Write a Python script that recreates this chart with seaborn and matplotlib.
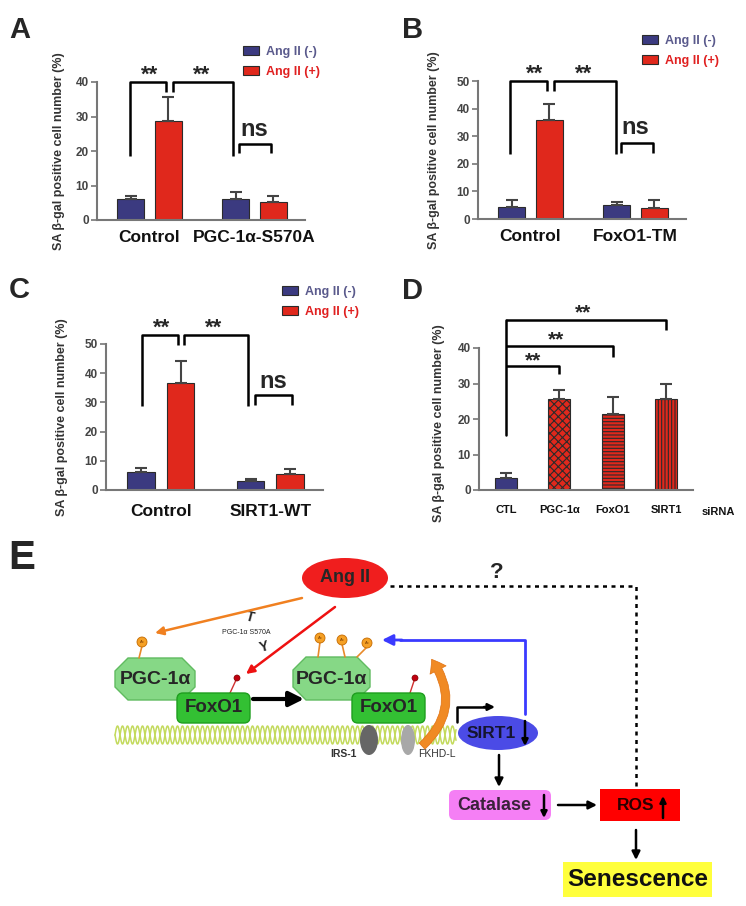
"""
SA beta-gal positive cells (panels A-D) and the Ang II / SIRT1 scheme (panel E)
"""

import numpy as np
import pandas as pd
import matplotlib
matplotlib.use('Agg')
import matplotlib.pyplot as plt
import seaborn as sns
from matplotlib.patches import Circle, Ellipse, FancyArrowPatch, FancyBboxPatch, Patch, Polygon, Rectangle

W, H = 746, 906

TREATMENTS = ['Ang II (-)', 'Ang II (+)']

# values per group, ordered [Ang II (-), Ang II (+)] for each group
GROUPS_A = ['Control', 'PGC-1α-S570A']
MEAN_A = [6.0, 28.7, 6.0, 5.2]
SEM_A = [1.0, 7.0, 2.0, 1.8]

GROUPS_B = ['Control', 'FoxO1-TM']
MEAN_B = [4.4, 35.9, 5.1, 4.1]
SEM_B = [2.5, 5.8, 1.1, 2.8]

GROUPS_C = ['Control', 'SIRT1-WT']
MEAN_C = [6.3, 36.5, 3.1, 5.6]
SEM_C = [1.1, 7.8, 0.8, 1.6]

SIRNA = ['CTL', 'PGC-1α', 'FoxO1', 'SIRT1']
MEAN_D = [3.3, 25.6, 21.5, 25.6]
SEM_D = [1.6, 2.5, 4.7, 4.4]
HATCH_D = ['', 'xxxx', '-----', '|||||']

YLABEL = 'SA β-gal positive cell number (%)'
BLUE = '#3b3a80'
RED = '#e0281c'
EDGE = '#2b2b2b'
GREY = '#777777'

sns.set_style('ticks')
plt.rcParams['font.family'] = ['Liberation Sans', 'DejaVu Sans']
plt.rcParams['hatch.linewidth'] = 0.8

fig = plt.figure(figsize=(W / 100, H / 100), dpi=100)


def px_axes(left, top, right, bottom):
    """Axes placed with pixel edges of the 746x906 canvas"""
    return fig.add_axes([left / W, 1 - bottom / H, (right - left) / W, (bottom - top) / H])


def style_axis(ax, ymax, label_x, label_y=0.5, xpad=7, xsize=12.5):
    ax.set_ylim(0, ymax)
    ax.set_yticks(np.arange(0, ymax + 1, 10))
    ax.set_xlabel('')
    ax.set_ylabel(YLABEL, fontsize=9, fontweight='bold', color='#333333')
    ax.yaxis.set_label_coords(label_x, label_y)
    sns.despine(ax=ax)
    for side in ['left', 'bottom']:
        ax.spines[side].set_color(GREY)
        ax.spines[side].set_linewidth(1.5)
    ax.tick_params(axis='y', length=4, width=1.2, color=GREY, labelsize=8.5,
                   labelcolor='#444444', pad=2)
    ax.tick_params(axis='x', length=0, labelsize=xsize, pad=xpad, labelcolor='#111111')
    for lbl in ax.get_xticklabels() + ax.get_yticklabels():
        lbl.set_fontweight('bold')


def add_errors(ax, means, sems):
    bars = sorted(ax.patches, key=lambda p: p.get_x())
    xs = [p.get_x() + p.get_width() / 2 for p in bars]
    ax.errorbar(xs, means, yerr=[np.zeros(len(means)), sems], fmt='none',
                ecolor='#444444', elinewidth=1.5, capsize=4, capthick=1.5)
    return bars


def bracket(ax, xs, ys):
    ax.plot(xs, ys, color='black', lw=1.8, clip_on=False, solid_capstyle='butt')


def mark(ax, x, y, txt, size=16, frac=0.40):
    ax.annotate(txt, (x, y), xytext=(0, -frac * size), textcoords='offset points',
                ha='center', va='baseline', fontsize=size, fontweight='bold',
                annotation_clip=False)


def pair_panel(ax, groups, means, sems, ymax, label_x, xpad):
    df = pd.DataFrame({'group': np.repeat(groups, 2),
                       'treatment': TREATMENTS * 2,
                       'value': means})
    sns.barplot(data=df, x='group', y='value', hue='treatment', hue_order=TREATMENTS,
                palette=[BLUE, RED], saturation=1, width=0.72, gap=0.3, errorbar=None,
                edgecolor=EDGE, linewidth=0.8, legend=False, ax=ax)
    add_errors(ax, means, sems)
    ax.set_xlim(-0.5, 1.48)
    style_axis(ax, ymax, label_x, xpad=xpad)


def pair_legend(ax, left_px, top_px):
    handles = [Patch(facecolor=BLUE, edgecolor=EDGE, linewidth=0.8),
               Patch(facecolor=RED, edgecolor=EDGE, linewidth=0.8)]
    leg = ax.legend(handles, TREATMENTS, loc='upper left',
                    bbox_to_anchor=(left_px / W, 1 - top_px / H),
                    bbox_transform=fig.transFigure, frameon=False, borderpad=0,
                    borderaxespad=0, handlelength=1.25, handleheight=0.75,
                    handletextpad=0.6, labelspacing=0.62,
                    prop={'weight': 'bold', 'size': 9})
    leg.get_texts()[0].set_color('#5a5a8c')
    leg.get_texts()[1].set_color('#e02020')


# ---- Panel A
ax_a = px_axes(97, 82, 305, 220)
pair_panel(ax_a, GROUPS_A, MEAN_A, SEM_A, 40, -0.154, 7)
pair_legend(ax_a, 243, 46)
bracket(ax_a, [-0.19, -0.19, 0.16, 0.16], [18.5, 40, 40, 37])
bracket(ax_a, [0.22, 0.22, 0.79, 0.79], [37, 40, 40, 18.5])
bracket(ax_a, [0.85, 0.85, 1.16, 1.16], [19.5, 22, 22, 19.5])
mark(ax_a, 0.0, 42.9, '**')
mark(ax_a, 0.5, 42.9, '**')
mark(ax_a, 1.0, 26.1, 'ns', size=17, frac=0.26)

# ---- Panel B
ax_b = px_axes(478, 81, 686, 219)
pair_panel(ax_b, GROUPS_B, MEAN_B, SEM_B, 50, -0.183, 7)
pair_legend(ax_b, 642, 35)
bracket(ax_b, [-0.2, -0.2, 0.155, 0.155], [23.5, 50, 50, 46.4])
bracket(ax_b, [0.22, 0.22, 0.81, 0.81], [46.4, 50, 50, 23.5])
bracket(ax_b, [0.86, 0.86, 1.165, 1.165], [24, 27.5, 27.5, 24])
mark(ax_b, 0.04, 53.6, '**')
mark(ax_b, 0.51, 53.6, '**')
mark(ax_b, 1.0, 33, 'ns', size=17, frac=0.26)

# ---- Panel C
ax_c = px_axes(106, 344, 323, 490)
pair_panel(ax_c, GROUPS_C, MEAN_C, SEM_C, 50, -0.175, 10)
pair_legend(ax_c, 282, 286)
bracket(ax_c, [-0.17, -0.17, 0.155, 0.155], [28.8, 53, 53, 49.6])
bracket(ax_c, [0.21, 0.21, 0.80, 0.80], [49.6, 53, 53, 28.8])
bracket(ax_c, [0.86, 0.86, 1.2, 1.2], [29, 32.5, 32.5, 29])
mark(ax_c, 0.01, 56.5, '**')
mark(ax_c, 0.48, 56.5, '**')
mark(ax_c, 1.03, 37, 'ns', size=17, frac=0.26)

# ---- Panel D
ax_d = px_axes(479, 348, 693, 490)
sns.barplot(x=SIRNA, y=MEAN_D, hue=SIRNA, palette=[BLUE, RED, RED, RED], saturation=1,
            width=0.41, errorbar=None, edgecolor=EDGE, linewidth=0.8, legend=False, ax=ax_d)
for bar, hatch in zip(add_errors(ax_d, MEAN_D, SEM_D), HATCH_D):
    bar.set_hatch(hatch)
ax_d.set_xlim(-0.5, 3.5)
style_axis(ax_d, 40, -0.159, 0.47, xpad=11, xsize=8)
ax_d.text(3.97, -0.155, 'siRNA', transform=ax_d.get_xaxis_transform(), ha='center',
          va='center', fontsize=8, fontweight='bold', color='#111111')
ax_d.plot([0, 0], [15.4, 48], color='black', lw=1.8, clip_on=False)
bracket(ax_d, [0, 3, 3], [48, 48, 45])
bracket(ax_d, [0, 2, 2], [40.6, 40.6, 37.4])
bracket(ax_d, [0, 1, 1], [34.9, 34.9, 32.6])
mark(ax_d, 1.45, 50.6, '**', size=15)
mark(ax_d, 0.94, 43.1, '**', size=15)
mark(ax_d, 0.51, 37.1, '**', size=15)

# ---- Panel letters and scheme E (pixel coordinates)
ax_e = fig.add_axes([0, 0, 1, 1])
ax_e.set_xlim(0, W)
ax_e.set_ylim(H, 0)
ax_e.axis('off')

for letter, x, y, size in [('A', 9, 38, 21), ('B', 402, 38, 21), ('C', 9, 298, 21),
                           ('D', 402, 299, 21), ('E', 8, 569, 29)]:
    ax_e.text(x, y, letter, fontsize=size, fontweight='bold', va='baseline', ha='left')


def arrow(p0, p1, color='black', lw=1.8, scale=12, style='-|>', z=5):
    ax_e.annotate('', xy=p1, xytext=p0, zorder=z,
                  arrowprops=dict(arrowstyle=style, color=color, lw=lw,
                                  mutation_scale=scale, shrinkA=0, shrinkB=0))


def octagon(x0, y0, x1, y1, c=13):
    pts = [(x0 + c, y0), (x1 - c, y0), (x1, y0 + c), (x1, y1 - c),
           (x1 - c, y1), (x0 + c, y1), (x0, y1 - c), (x0, y0 + c)]
    return Polygon(pts, closed=True, facecolor='#86d886', edgecolor='#60bb60', lw=1, zorder=2)


def acetyl(ball, stem_end):
    ax_e.plot([ball[0], stem_end[0]], [ball[1] + 4, stem_end[1]], color='#e88a2a', lw=1.2, zorder=2)
    ax_e.add_patch(Circle(ball, 5, facecolor='#f5a025', edgecolor='#c46a00', lw=0.6, zorder=3))
    ax_e.text(ball[0], ball[1], 'Ac', fontsize=3, ha='center', va='center', color='#7a3a00', zorder=4)


def phospho(dot, stem_end):
    ax_e.plot([dot[0], stem_end[0]], [dot[1], stem_end[1]], color='#d03030', lw=1, zorder=2)
    ax_e.add_patch(Circle(dot, 3, facecolor='#c00010', edgecolor='#800000', lw=0.5, zorder=3))


# DNA helix
dna_x = np.linspace(115, 456, 3000)
for phase in (0, np.pi):
    ax_e.plot(dna_x, 735 + 9 * np.sin(2 * np.pi * (dna_x - 115) / 10 + phase),
              color='#c3da5c', lw=1.1, zorder=1)

# Ang II with the question mark path to ROS
ax_e.add_patch(Ellipse((345, 578), 86, 40, facecolor='#f01e1e', edgecolor='none', zorder=3))
ax_e.text(345, 578, 'Ang II', fontsize=13, fontweight='bold', ha='center', va='center', zorder=4)
ax_e.plot([390, 636, 636], [586, 586, 786], color='black', lw=1.8,
          ls=(0, (1.6, 1.8)), zorder=2)
ax_e.text(497, 572, '?', fontsize=16, fontweight='bold', ha='center', va='center')

# Ang II signalling onto PGC-1alpha / FoxO1
arrow((302, 598), (155, 633), color='#f08020')
arrow((335, 607), (246, 674), color='#ee1111')
ax_e.text(250, 617, 'T', fontsize=10, fontweight='bold', ha='center', va='center', rotation=-15)
ax_e.text(246, 633, 'PGC-1α S570A', fontsize=5, ha='center', va='center', color='#222222')
ax_e.text(264, 647, 'Y', fontsize=10, fontweight='bold', ha='center', va='center', rotation=15)

# left complex
ax_e.add_patch(octagon(115, 658, 195, 700))
ax_e.text(155, 679, 'PGC-1α', fontsize=14, fontweight='bold', ha='center', va='center', zorder=4)
acetyl((142, 642), (139, 658))
ax_e.add_patch(FancyBboxPatch((177, 693), 73, 30, boxstyle='round,pad=0,rounding_size=6',
                              facecolor='#33c033', edgecolor='#1e9e1e', lw=1, zorder=3))
ax_e.text(213.5, 708, 'FoxO1', fontsize=13.5, fontweight='bold', ha='center', va='center', zorder=4)
phospho((237, 678), (230, 693))

arrow((253, 699), (304, 699), lw=3, scale=22)

# right complex
ax_e.add_patch(octagon(293, 657, 370, 700))
ax_e.text(331.5, 679, 'PGC-1α', fontsize=14, fontweight='bold', ha='center', va='center', zorder=4)
for ball, end in [((320, 638), (318, 657)), ((342, 640), (345, 657)), ((367, 643), (357, 657))]:
    acetyl(ball, end)
ax_e.add_patch(FancyBboxPatch((352, 693), 73, 30, boxstyle='round,pad=0,rounding_size=6',
                              facecolor='#33c033', edgecolor='#1e9e1e', lw=1, zorder=3))
ax_e.text(388.5, 708, 'FoxO1', fontsize=13.5, fontweight='bold', ha='center', va='center', zorder=4)
phospho((415, 678), (410, 693))

# promoter elements
ax_e.add_patch(Ellipse((369, 740), 18, 30, facecolor='#666666', edgecolor='none', zorder=3))
ax_e.add_patch(Ellipse((408, 740), 14, 30, facecolor='#a8a8a8', edgecolor='none', zorder=3))
ax_e.text(343, 754, 'IRS-1', fontsize=7.5, fontweight='bold', ha='center', va='center', color='#333333')
ax_e.text(437, 754, 'FKHD-L', fontsize=7.5, ha='center', va='center', color='#333333')
ax_e.add_patch(FancyArrowPatch((420, 748), (430, 657), connectionstyle='arc3,rad=0.45',
                               arrowstyle='simple,head_length=9,head_width=13,tail_width=6',
                               mutation_scale=1, facecolor='#f08a24', edgecolor='#e07010',
                               lw=0.5, zorder=4))

# transcription start and SIRT1
ax_e.plot([457, 457, 486], [722, 707, 707], color='black', lw=1.8, zorder=5)
arrow((484, 707), (495, 707), lw=1.8, scale=10)
ax_e.add_patch(Ellipse((498, 733), 80, 34, facecolor='#4b4be6', edgecolor='none', zorder=3))
ax_e.text(491, 733, 'SIRT1', fontsize=12.5, fontweight='bold', ha='center', va='center',
          color='#151530', zorder=4)
arrow((525, 721), (525, 746), lw=1.8, scale=9)
ax_e.plot([525, 525, 400], [714, 640, 640], color='#3a3aff', lw=2, zorder=2)
arrow((402, 640), (382, 640), color='#3a3aff', lw=2, scale=16)

# downstream cascade
arrow((499, 755), (499, 787))
ax_e.add_patch(FancyBboxPatch((449, 790), 102, 30, boxstyle='round,pad=0,rounding_size=6',
                              facecolor='#f57ff5', edgecolor='none', zorder=3))
ax_e.text(494, 805, 'Catalase', fontsize=13, fontweight='bold', ha='center', va='center',
          color='#3a223a', zorder=4)
arrow((544, 795), (544, 818), lw=1.8, scale=9)
arrow((558, 805), (597, 805))
ax_e.add_patch(Rectangle((600, 789), 80, 32, facecolor='#ff0000', edgecolor='none', zorder=3))
ax_e.text(636, 805, 'ROS', fontsize=12.5, fontweight='bold', ha='center', va='center',
          color='#2a0000', zorder=4)
arrow((663, 818), (663, 796), lw=1.8, scale=9)
arrow((636, 830), (636, 860))
ax_e.add_patch(Rectangle((563, 862), 149, 35, facecolor='#ffff3c', edgecolor='none', zorder=3))
ax_e.text(637.5, 880, 'Senescence', fontsize=17.5, fontweight='bold', ha='center', va='center',
          color='#111111', zorder=4)

fig.savefig('out.png', dpi=100)
